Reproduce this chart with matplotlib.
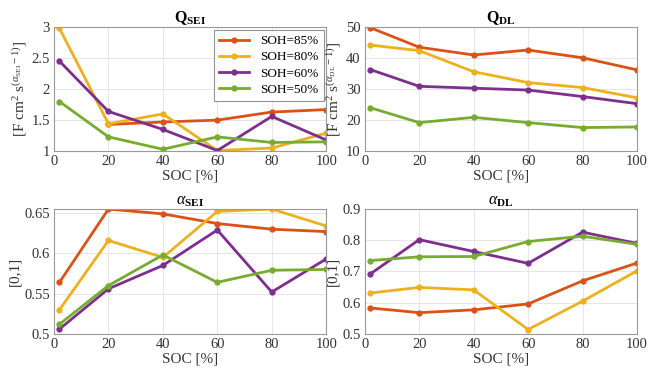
import numpy as np
import matplotlib.pyplot as plt
from matplotlib.ticker import FormatStrFormatter

plt.rcParams['font.family'] = 'Liberation Serif'
plt.rcParams['mathtext.fontset'] = 'custom'
plt.rcParams['mathtext.rm'] = 'Liberation Serif'
plt.rcParams['mathtext.it'] = 'Liberation Serif:italic'
plt.rcParams['mathtext.bf'] = 'Liberation Serif:bold'

soc = [2, 20, 40, 60, 80, 100]
labels = ['SOH=85%', 'SOH=80%', 'SOH=60%', 'SOH=50%']
colors = ['#D95319', '#EDB120', '#7E2F8E', '#77AC30']

# Q_SEI
q_sei_85 = [np.nan, 1.43, 1.47, 1.50, 1.63, 1.67]
q_sei_80 = [2.98, 1.44, 1.60, 1.01, 1.05, 1.29]
q_sei_60 = [2.45, 1.64, 1.35, 1.01, 1.56, 1.18]
q_sei_50 = [1.80, 1.23, 1.03, 1.23, 1.14, 1.15]

# Q_DL
q_dl_85 = [49.8, 43.5, 41.0, 42.6, 40.1, 36.2]
q_dl_80 = [44.2, 42.4, 35.6, 32.1, 30.5, 27.2]
q_dl_60 = [36.3, 30.9, 30.3, 29.7, 27.6, 25.3]
q_dl_50 = [24.0, 19.2, 20.9, 19.2, 17.6, 17.8]

# alpha_SEI
a_sei_85 = [0.564, 0.655, 0.649, 0.637, 0.630, 0.627]
a_sei_80 = [0.530, 0.616, 0.595, 0.652, 0.655, 0.634]
a_sei_60 = [0.506, 0.556, 0.585, 0.629, 0.552, 0.593]
a_sei_50 = [0.512, 0.560, 0.598, 0.564, 0.579, 0.580]

# alpha_DL
a_dl_85 = [0.583, 0.568, 0.577, 0.596, 0.670, 0.727]
a_dl_80 = [0.631, 0.649, 0.641, 0.514, 0.605, 0.702]
a_dl_60 = [0.692, 0.802, 0.764, 0.726, 0.826, 0.790]
a_dl_50 = [0.735, 0.747, 0.748, 0.796, 0.813, 0.787]

panels = [
    ([q_sei_85, q_sei_80, q_sei_60, q_sei_50], r'$\mathbf{Q}_{\mathbf{SEI}}$',
     r'[F cm$^2$ s$^{(\alpha_{\rm SEI}\rm -1)}$]', (1, 3), [1, 1.5, 2, 2.5, 3]),
    ([q_dl_85, q_dl_80, q_dl_60, q_dl_50], r'$\mathbf{Q}_{\mathbf{DL}}$',
     r'[F cm$^2$ s$^{(\alpha_{\rm DL}\rm -1)}$]', (10, 50), [10, 20, 30, 40, 50]),
    ([a_sei_85, a_sei_80, a_sei_60, a_sei_50], r'$\alpha_{\mathbf{SEI}}$',
     '[0,1]', (0.5, 0.655), [0.5, 0.55, 0.6, 0.65]),
    ([a_dl_85, a_dl_80, a_dl_60, a_dl_50], r'$\alpha_{\mathbf{DL}}$',
     '[0,1]', (0.5, 0.9), [0.5, 0.6, 0.7, 0.8, 0.9]),
]

positions = [
    [0.081, 0.598, 0.408, 0.330],
    [0.547, 0.598, 0.408, 0.330],
    [0.081, 0.112, 0.408, 0.332],
    [0.547, 0.112, 0.408, 0.332],
]

fig = plt.figure(figsize=(6.67, 3.76), dpi=100)
for i, (series, title, ylab, ylim, yticks) in enumerate(panels):
    ax = fig.add_axes(positions[i])
    for s, c, lab in zip(series, colors, labels):
        ax.plot(soc, s, color=c, lw=2, marker='o', ms=3.5, label=lab)
    ax.set_xlim(0, 100)
    ax.set_ylim(*ylim)
    ax.set_xticks([0, 20, 40, 60, 80, 100])
    ax.set_yticks(yticks)
    ax.yaxis.set_major_formatter(FormatStrFormatter('%g'))
    ax.set_title(title, fontsize=11.5, pad=3)
    ax.set_xlabel('SOC [%]', fontsize=11, labelpad=1, color='#333333')
    ax.set_ylabel(ylab, fontsize=11, labelpad=2, color='#333333')
    ax.grid(True, color='#e6e6e6', lw=0.7)
    ax.set_axisbelow(True)
    ax.tick_params(labelsize=10.5, colors='#333333', length=0, pad=3)
    for sp in ax.spines.values():
        sp.set_color('#999999')
        sp.set_linewidth(0.8)
    if i == 0:
        leg = ax.legend(loc='upper right', fontsize=9.5, fancybox=False,
                        edgecolor='#777777', borderaxespad=0.2,
                        handlelength=2.3, labelspacing=0.3, borderpad=0.4)
        leg.get_frame().set_linewidth(0.8)

plt.savefig('out.png')
